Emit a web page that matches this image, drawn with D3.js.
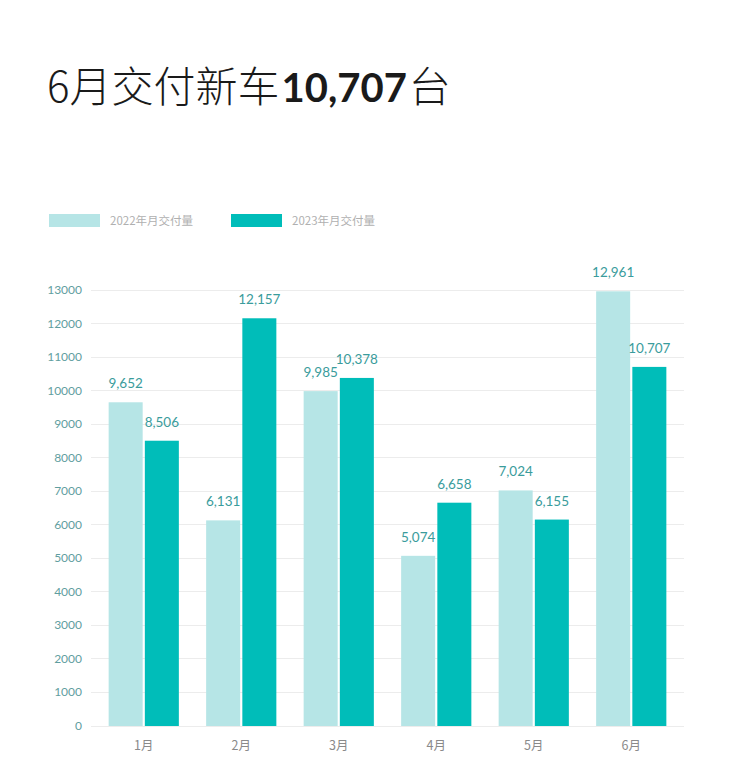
<!DOCTYPE html>
<html>
<head>
<meta charset="utf-8">
<script src="https://cdn.jsdelivr.net/npm/d3@7"></script>
<style>
  body { margin: 0; background: #fff; }
  svg { display: block; font-family: 'Noto Sans CJK SC', 'Noto Sans', sans-serif; }
</style>
</head>
<body>
<div class="chart"></div>
<script>
const months = ['1月', '2月', '3月', '4月', '5月', '6月'];
const series = ['2022年月交付量', '2023年月交付量'];
const values2022 = [9652, 6131, 9985, 5074, 7024, 12961];
const values2023 = [8506, 12157, 10378, 6658, 6155, 10707];
const yTicks = [0, 1000, 2000, 3000, 4000, 5000, 6000, 7000, 8000, 9000, 10000, 11000, 12000, 13000];

const config = {
  width: 739,
  height: 777,
  left: 95,
  right: 680,
  top: 290,
  bottom: 726,
  colors: ['#b6e5e6', '#00bdb9']
};

const svg = d3.select('.chart')
  .append('svg')
  .attr('width', config.width)
  .attr('height', config.height);

// title
const title = svg.append('text')
  .attr('x', 47)
  .attr('y', 102)
  .attr('font-size', 42)
  .attr('fill', '#1a1a1a');
title.append('tspan').attr('font-weight', 300).text('6月交付新车');
title.append('tspan').attr('font-weight', 700).attr('font-size', 40).attr('font-family', 'Lato, sans-serif').attr('dx', 2).text('10,707');
title.append('tspan').attr('font-weight', 300).attr('dx', 2).text('台');

// legend
const legendX = [49, 231];
series.forEach((name, i) => {
  svg.append('rect')
    .attr('x', legendX[i])
    .attr('y', 214)
    .attr('width', 51)
    .attr('height', 13)
    .attr('fill', config.colors[i]);
  svg.append('text')
    .attr('x', legendX[i] + 61)
    .attr('y', 225)
    .attr('font-size', 11.5)
    .attr('fill', '#b0b0b0')
    .text(name);
});

const y = d3.scaleLinear()
  .domain([0, 13000])
  .range([config.bottom, config.top]);

const x0 = d3.scaleBand()
  .domain(months)
  .range([config.left, config.right]);

const x1 = d3.scaleBand()
  .domain([0, 1])
  .range([x0.step() * 0.14, x0.step() * 0.86])
  .paddingInner(0.06);

// grid + y labels
const grid = svg.append('g');
grid.selectAll('line')
  .data(yTicks)
  .enter()
  .append('line')
  .attr('x1', 91)
  .attr('x2', 684)
  .attr('y1', d => y(d))
  .attr('y2', d => y(d))
  .attr('stroke', '#ececec')
  .attr('stroke-width', 1)
  .attr('shape-rendering', 'crispEdges');

grid.selectAll('text')
  .data(yTicks)
  .enter()
  .append('text')
  .attr('x', 82)
  .attr('y', d => y(d) + 4)
  .attr('text-anchor', 'end')
  .attr('font-family', 'Lato, sans-serif')
  .attr('font-size', 12)
  .attr('fill', '#5f9ea0')
  .text(d => d);

// bars
const rows = months.map((m, i) => ({ month: m, vals: [values2022[i], values2023[i]] }));

const groups = svg.selectAll('g.month')
  .data(rows)
  .enter()
  .append('g')
  .attr('class', 'month')
  .attr('transform', d => `translate(${x0(d.month)},0)`);

groups.each(function (row) {
  const $g = d3.select(this);
  row.vals.forEach((v, i) => {
    $g.append('rect')
      .attr('x', x1(i))
      .attr('y', y(v))
      .attr('width', x1.bandwidth())
      .attr('height', y(0) - y(v))
      .attr('fill', config.colors[i]);
    $g.append('text')
      .attr('x', x1(i) + x1.bandwidth() / 2)
      .attr('y', y(v) - 14)
      .attr('text-anchor', 'middle')
      .attr('font-family', 'Lato, sans-serif')
      .attr('font-size', 13.5)
      .attr('fill', '#3a9c9c')
      .text(d3.format(',')(v));
  });
  $g.append('text')
    .attr('x', x0.bandwidth() / 2)
    .attr('y', 750)
    .attr('text-anchor', 'middle')
    .attr('font-size', 12.5)
    .attr('fill', '#8a8a8a')
    .text(row.month);
});
</script>
</body>
</html>
